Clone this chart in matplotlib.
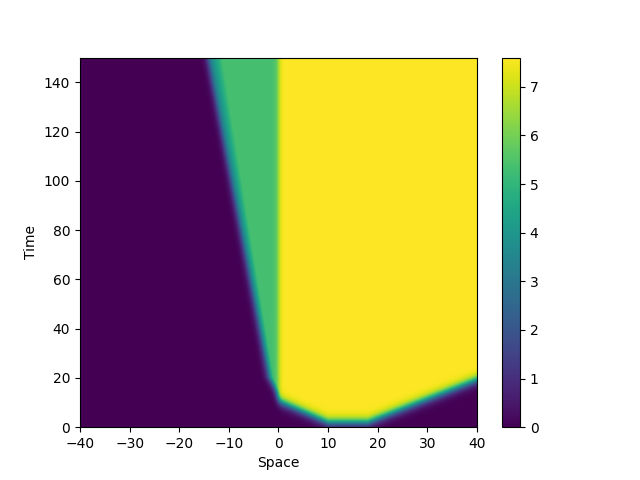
import numpy as np
import matplotlib
matplotlib.use("Agg")
import matplotlib.pyplot as plt

# levels of the three states
low_level = 0.0
mid_level = 5.35
high_level = 7.6

# lower edge of the high (yellow) state
edge_x = [0, 10, 18, 40]
edge_t = [10.5, 1.8, 1.8, 19]

# left front of the middle (green) state
left_t = [0, 12, 20, 150]
left_x = [3, 0, -2.2, -14.4]
# width of the teal-to-green ramp behind the front
fan_t = [12, 150]
fan_w = [1.0, 3.0]

# grid
x = np.linspace(-40, 40, 801)
t = np.linspace(0, 150, 751)
X, T = np.meshgrid(x, t)


def sig(z):
    return 1.0 / (1.0 + np.exp(-z))


b = np.interp(X, edge_x, edge_t)
yellow = sig(X / 0.3) * sig((T - b) / 1.1)

lx = np.interp(T, left_t, left_x)
fw = np.interp(T, fan_t, fan_w)
d = X - lx
ramp = 0.6 + 0.4 * np.clip(d / fw, 0, 1)
green = sig(d / 0.35) * ramp * (1 - sig(X / 0.3))

U = low_level + high_level * yellow + mid_level * green

fig = plt.figure(figsize=(6.4, 4.8), dpi=100)
plt.imshow(U, origin="lower", extent=[-40, 40, 0, 150], aspect="auto",
           cmap="viridis", vmin=0, vmax=high_level)
plt.colorbar()
plt.xlabel("Space")
plt.ylabel("Time")
plt.savefig("out.png")
